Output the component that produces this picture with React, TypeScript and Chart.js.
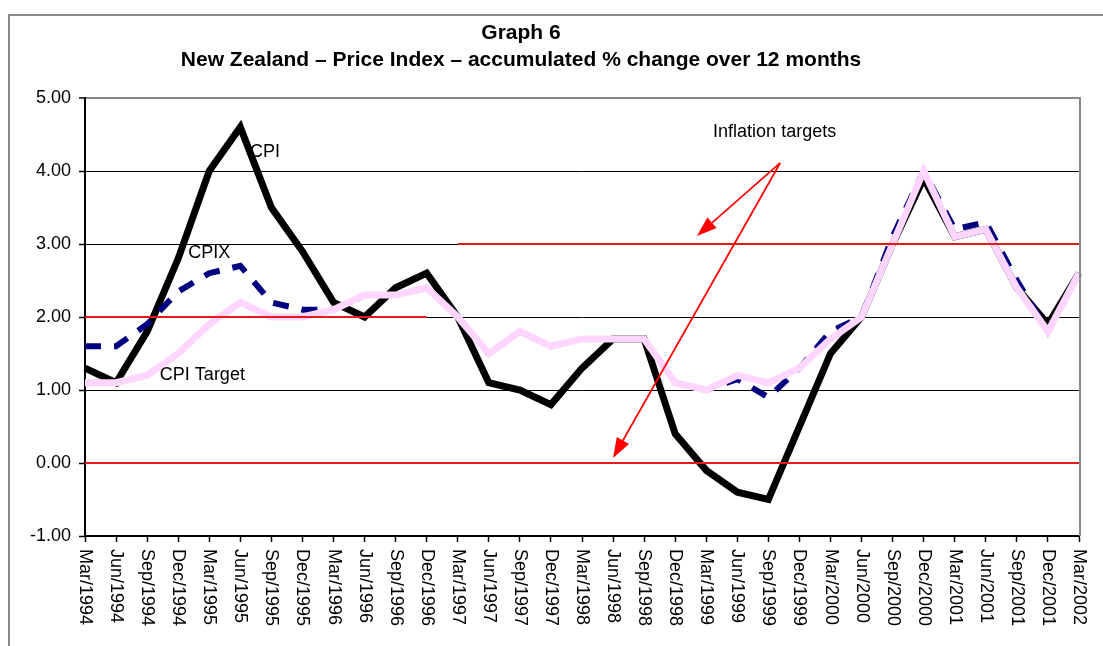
import React, { useEffect, useRef } from "react";
import { Chart, registerables } from "chart.js";

Chart.register(...registerables);

const quarters: string[] = [
  "Mar/1994", "Jun/1994", "Sep/1994", "Dec/1994",
  "Mar/1995", "Jun/1995", "Sep/1995", "Dec/1995",
  "Mar/1996", "Jun/1996", "Sep/1996", "Dec/1996",
  "Mar/1997", "Jun/1997", "Sep/1997", "Dec/1997",
  "Mar/1998", "Jun/1998", "Sep/1998", "Dec/1998",
  "Mar/1999", "Jun/1999", "Sep/1999", "Dec/1999",
  "Mar/2000", "Jun/2000", "Sep/2000", "Dec/2000",
  "Mar/2001", "Jun/2001", "Sep/2001", "Dec/2001",
  "Mar/2002",
];

const cpi: number[] = [
  1.3, 1.1, 1.8, 2.8, 4.0, 4.6, 3.5, 2.9, 2.2, 2.0, 2.4, 2.6,
  2.0, 1.1, 1.0, 0.8, 1.3, 1.7, 1.7, 0.4, -0.1, -0.4, -0.5, 0.5,
  1.5, 2.0, 3.0, 3.9, 3.1, 3.2, 2.4, 1.9, 2.6,
];

const cpix: number[] = [
  1.6, 1.6, 1.9, 2.35, 2.6, 2.7, 2.2, 2.1, 2.1, 2.3, 2.3, 2.4,
  2.0, 1.5, 1.8, 1.6, 1.7, 1.7, 1.7, 1.1, 1.0, 1.15, 0.9, 1.3,
  1.8, 2.0, 3.1, 4.0, 3.2, 3.3, 2.5, 1.8, 2.6,
];

const cpiTarget: number[] = [
  1.1, 1.1, 1.2, 1.5, 1.9, 2.2, 2.0, 2.0, 2.1, 2.3, 2.3, 2.4,
  2.0, 1.5, 1.8, 1.6, 1.7, 1.7, 1.7, 1.1, 1.0, 1.2, 1.1, 1.3,
  1.7, 2.0, 3.0, 4.0, 3.1, 3.2, 2.4, 1.8, 2.6,
];

// Inflation target band edges
const bandLower: number[] = quarters.map(() => 0);
const bandUpperOld: (number | null)[] = [
  2, 2, 2, 2, 2, 2, 2, 2, 2, 2, 2, 2,
  null, null, null, null, null, null, null, null, null, null, null, null,
  null, null, null, null, null, null, null, null, null,
];
const bandUpperNew: (number | null)[] = [
  null, null, null, null, null, null, null, null, null, null, null, null,
  3, 3, 3, 3, 3, 3, 3, 3, 3, 3, 3, 3,
  3, 3, 3, 3, 3, 3, 3, 3, 3,
];

const yTicksMin = -1;
const yTicksMax = 5;

const titleLines: string[] = [
  "Graph 6",
  "New Zealand \u2013 Price Index \u2013 accumulated % change over 12 months",
];

// annotation texts anchored in data coordinates (category index, value)
const noteTexts: string[] = ["CPI", "CPIX", "CPI Target", "Inflation targets"];
const noteX: number[] = [5.31, 3.32, 2.41, 20.22];
const noteY: number[] = [4.26, 2.88, 1.21, 4.53];

const arrowFrom: number[] = [22.38, 4.11];
const arrowTips: number[][] = [
  [19.7, 3.11],
  [17.0, 0.07],
];

const FONT = "'Liberation Sans', Arial, Helvetica, sans-serif";

const decorPlugin = {
  id: "decor",
  afterDatasetsDraw(chart: any) {
    const { ctx, chartArea, scales } = chart;
    const xs = scales.x;
    const ys = scales.y;
    ctx.save();
    // plot area right border
    ctx.strokeStyle = "#888888";
    ctx.lineWidth = 2;
    ctx.beginPath();
    ctx.moveTo(chartArea.right + 1, chartArea.top - 1);
    ctx.lineTo(chartArea.right + 1, chartArea.bottom);
    ctx.stroke();

    // annotation labels
    ctx.fillStyle = "#000";
    ctx.font = `18px ${FONT}`;
    ctx.textAlign = "left";
    ctx.textBaseline = "middle";
    noteTexts.forEach((t, i) => {
      ctx.fillText(t, xs.getPixelForValue(noteX[i]), ys.getPixelForValue(noteY[i]));
    });

    // arrows
    const fx = xs.getPixelForValue(arrowFrom[0]);
    const fy = ys.getPixelForValue(arrowFrom[1]);
    ctx.strokeStyle = "#FF0000";
    ctx.fillStyle = "#FF0000";
    ctx.lineWidth = 1.7;
    arrowTips.forEach(([ti, tv]) => {
      const tx = xs.getPixelForValue(ti);
      const ty = ys.getPixelForValue(tv);
      const ang = Math.atan2(ty - fy, tx - fx);
      const headLen = 20;
      const headW = 7;
      const bx = tx - headLen * Math.cos(ang);
      const by = ty - headLen * Math.sin(ang);
      ctx.beginPath();
      ctx.moveTo(fx, fy);
      ctx.lineTo(bx, by);
      ctx.stroke();
      ctx.beginPath();
      ctx.moveTo(tx, ty);
      ctx.lineTo(bx + headW * Math.sin(ang), by - headW * Math.cos(ang));
      ctx.lineTo(bx - headW * Math.sin(ang), by + headW * Math.cos(ang));
      ctx.closePath();
      ctx.fill();
    });
    ctx.restore();
  },
  afterDraw(chart: any) {
    const { ctx, chartArea, scales } = chart;
    const xs = scales.x;
    ctx.save();
    // rotated category labels (reading top to bottom)
    ctx.fillStyle = "#000";
    ctx.font = `18px ${FONT}`;
    ctx.textAlign = "left";
    ctx.textBaseline = "middle";
    quarters.forEach((q, i) => {
      const x = xs.getPixelForTick(i);
      ctx.save();
      ctx.translate(x, chartArea.bottom + 13);
      ctx.rotate(Math.PI / 2);
      ctx.fillText(q, 0, 0);
      ctx.restore();
    });
    // titles
    ctx.font = `bold 21px ${FONT}`;
    ctx.textAlign = "center";
    ctx.fillText(titleLines[0], 521, 33);
    ctx.fillText(titleLines[1], 521, 60);
    ctx.restore();
  },
};

export default function App() {
  const canvasRef = useRef<HTMLCanvasElement | null>(null);

  useEffect(() => {
    if (!canvasRef.current) return;
    const chart = new Chart(canvasRef.current, {
      type: "line",
      data: {
        labels: quarters,
        datasets: [
          {
            label: "Target lower",
            data: bandLower,
            borderColor: "#E41A1A",
            borderWidth: 2,
            pointRadius: 0,
            order: 0,
          },
          {
            label: "Target upper (to 1996)",
            data: bandUpperOld,
            borderColor: "#E41A1A",
            borderWidth: 2,
            pointRadius: 0,
            spanGaps: false,
            order: 0,
          },
          {
            label: "Target upper (from 1997)",
            data: bandUpperNew,
            borderColor: "#E41A1A",
            borderWidth: 2,
            pointRadius: 0,
            spanGaps: false,
            order: 0,
          },
          {
            label: "CPI Target",
            data: cpiTarget,
            borderColor: "#FFD6FF",
            borderWidth: 7,
            pointRadius: 0,
            order: 1,
          },
          {
            label: "CPIX",
            data: cpix,
            borderColor: "#000080",
            borderWidth: 6,
            borderDash: [16, 13],
            pointRadius: 0,
            order: 2,
          },
          {
            label: "CPI",
            data: cpi,
            borderColor: "#000000",
            borderWidth: 7,
            pointRadius: 0,
            order: 3,
          },
        ],
      },
      options: {
        animation: false,
        responsive: false,
        maintainAspectRatio: false,
        events: [],
        layout: { padding: { left: 0, top: 98, right: 24, bottom: 0 } },
        plugins: {
          legend: { display: false },
          tooltip: { enabled: false },
          title: { display: false },
        },
        elements: { line: { tension: 0, borderCapStyle: "butt", borderJoinStyle: "miter" } },
        scales: {
          x: {
            type: "category",
            offset: false,
            grid: {
              display: true,
              drawOnChartArea: false,
              drawTicks: true,
              tickLength: 6,
              tickColor: "#000",
              tickWidth: 1.5,
            },
            border: { display: true, color: "#000", width: 2 },
            ticks: { display: false },
            afterFit: (s: any) => {
              s.height = 110;
            },
          },
          y: {
            min: yTicksMin,
            max: yTicksMax,
            grid: {
              color: (c: any) => (c.tick && c.tick.value === yTicksMax ? "#888888" : "#000000"),
              lineWidth: (c: any) => (c.tick && c.tick.value === yTicksMax ? 2 : 1),
              tickColor: "#000",
              tickLength: 6,
              tickWidth: 1.5,
            },
            border: { display: true, color: "#000", width: 2 },
            ticks: {
              stepSize: 1,
              color: "#000",
              padding: 8,
              font: { family: FONT, size: 18 },
              callback: (v: any) => Number(v).toFixed(2),
            },
            afterFit: (s: any) => {
              s.width = 85;
            },
          },
        },
      },
      plugins: [decorPlugin],
    });
    return () => chart.destroy();
  }, []);

  return (
    <div style={{ position: "fixed", left: 0, top: 0, width: 1103, height: 646, background: "#fff", overflow: "hidden" }}>
      <div
        style={{
          position: "absolute",
          left: 8,
          top: 14,
          width: 1200,
          height: 800,
          borderLeft: "2px solid #888",
          borderTop: "2px solid #888",
        }}
      />
      <canvas
        ref={canvasRef}
        width={1103}
        height={646}
        style={{ position: "absolute", left: 0, top: 0 }}
      />
    </div>
  );
}
